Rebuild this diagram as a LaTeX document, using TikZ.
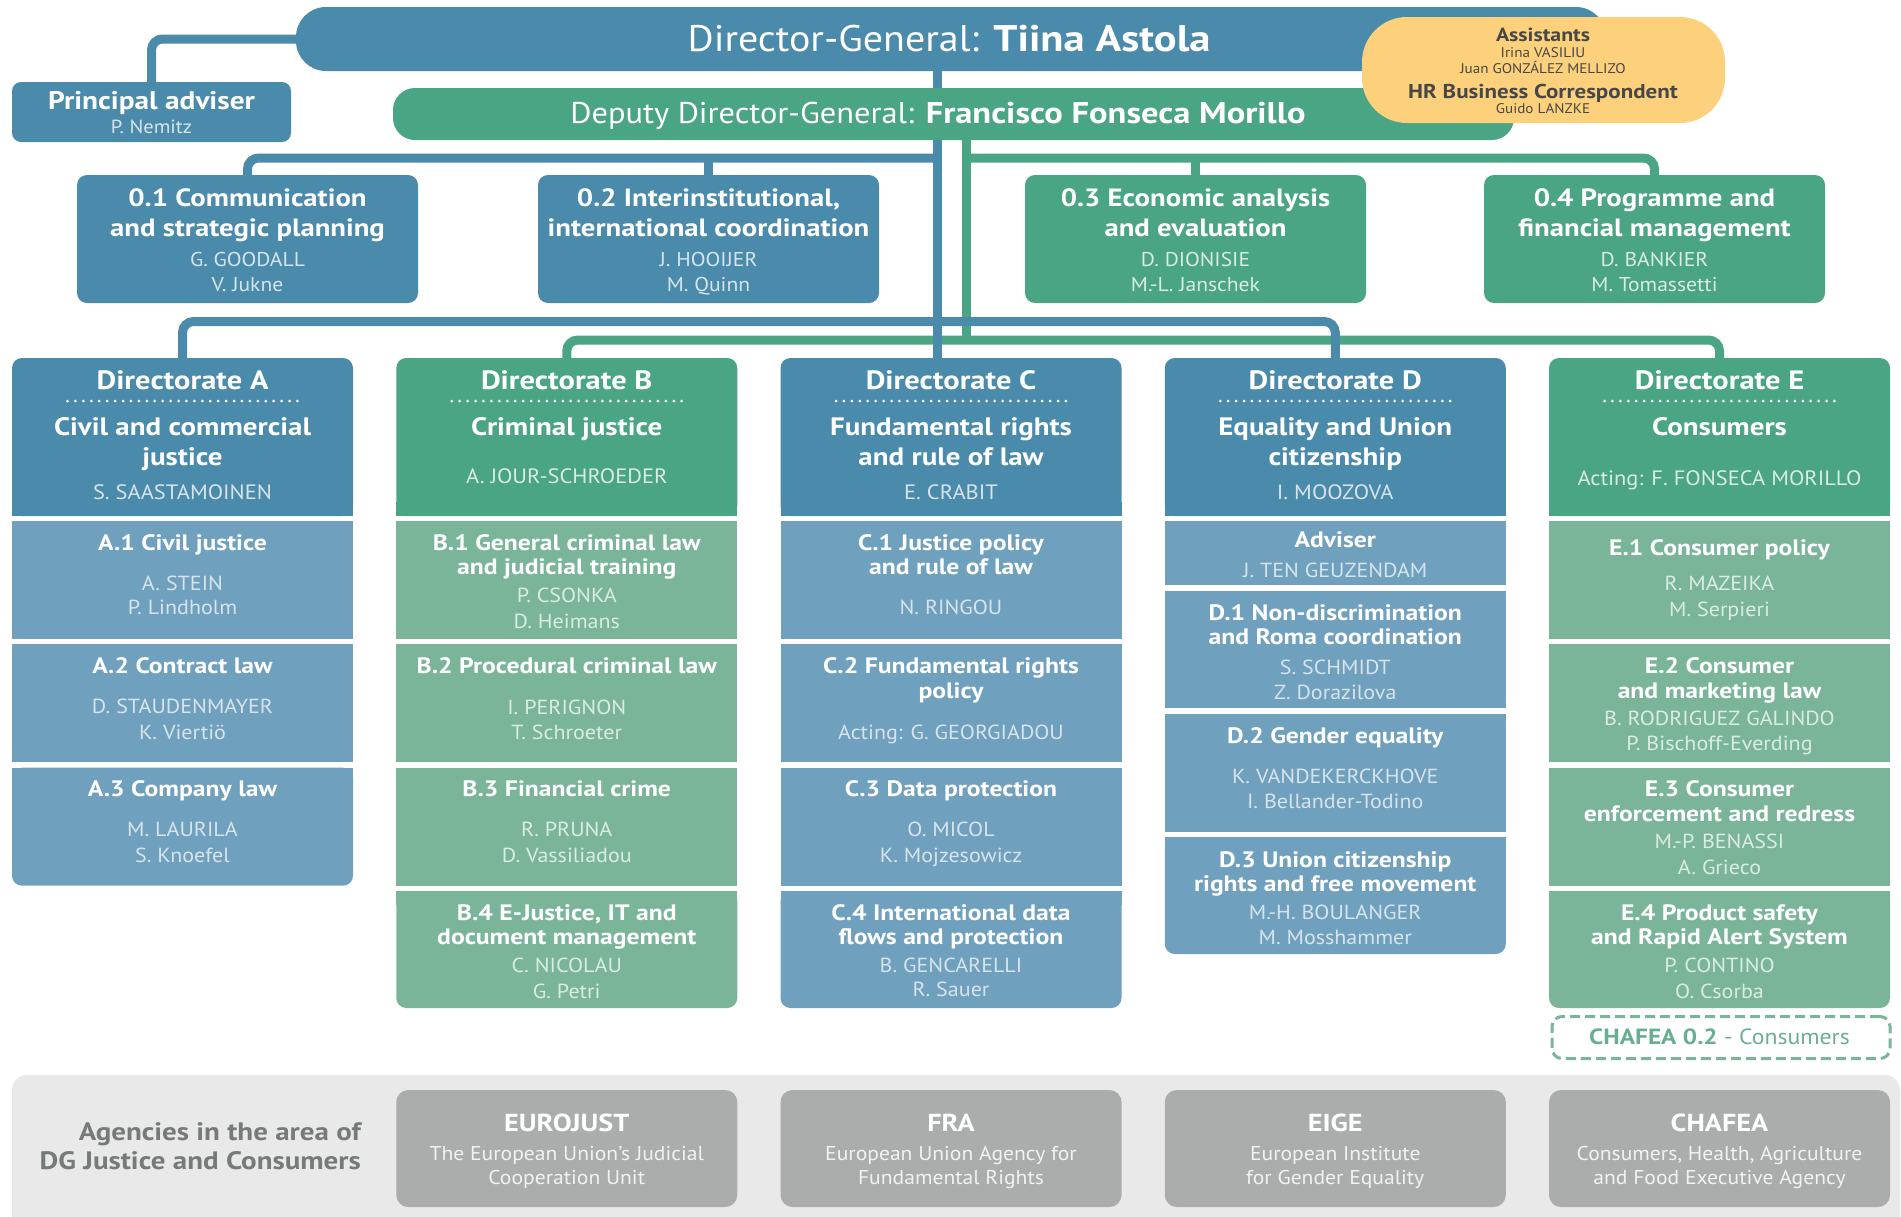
\documentclass[tikz,border=0pt]{standalone}
\usepackage{fontspec}
\setmainfont{PT Sans}[UprightFeatures={FakeStretch=1.08}, BoldFeatures={FakeStretch=1.15}]
\usetikzlibrary{calc}
\definecolor{cBlue}{HTML}{4A8AAB}
\definecolor{cGreen}{HTML}{4AA584}
\definecolor{cBlueL}{HTML}{6FA0BE}
\definecolor{cGreenL}{HTML}{7AB59A}
\definecolor{cYel}{HTML}{FDD17B}
\definecolor{cGray}{HTML}{AAADAC}
\definecolor{cBand}{HTML}{E8E9E8}
\definecolor{cNameB}{HTML}{D8E4EC}
\definecolor{cNameG}{HTML}{DAECE3}
\definecolor{cDark}{HTML}{474747}
\definecolor{cAgTxt}{HTML}{767B79}
\definecolor{cChafea}{HTML}{6AAE90}
\pgfdeclarelayer{bg}\pgfsetlayers{bg,main}
\newcounter{tlc}
\newcommand\myTL[4]{\stepcounter{tlc}\node[#3] (tl\arabic{tlc}) at (#1,#2) {#4};}
\newcommand\mySB[5]{\node[fill=#5, minimum width=341, minimum height=#4, anchor=north west, inner sep=0, outer sep=0] (#1) at (#2,#3) {};}
\newcommand\mySBL[5]{\node[fill=#5, rounded corners=10, minimum width=341, minimum height=#4, anchor=north west, inner sep=0, outer sep=0] (#1) at (#2,#3) {};
  \fill[#5] ([yshift=-14pt]#1.north west) rectangle (#1.north east);}
\newcommand\myDirHead[3]{\node[fill=#3, rounded corners=10, minimum width=341, minimum height=158, anchor=north west, inner sep=0, outer sep=0] (#1) at (#2,358) {};
  \fill[#3] ([yshift=14pt]#1.south west) rectangle (#1.south east);
  \draw[white, line width=3, line cap=round, dash pattern=on 0pt off 7.93pt] ($(#1.north)+(-115,43)$) -- ($(#1.north)+(115,43)$);}
\begin{document}
\begin{tikzpicture}[x=1pt,y=-1pt,
  tb/.style={anchor=base, inner sep=0, text=white, font=\bfseries\fontsize{#1}{#1}\selectfont, yshift={-0.35*#1}},
  tn/.style={anchor=base, inner sep=0, font=\fontsize{#1}{#1}\selectfont, yshift={-0.35*#1}},
  hd/.style={tb=26.5},
  dt/.style={tb=25.2},
  dn/.style={tn=20.8},
  st/.style={tb=22.3},
  sn/.style={tn=20.4},
  conB/.style={draw=cBlue, line width=9},
  conG/.style={draw=cGreen, line width=9},
  obox/.style={rounded corners=10, minimum width=341, minimum height=128, anchor=north west, inner sep=0, outer sep=0},
  agbox/.style={fill=cGray, rounded corners=12, minimum width=341, minimum height=117, anchor=north west, inner sep=0, outer sep=0}]
\useasboundingbox (0,0) rectangle (1901,1216);

% top boxes
\node[fill=cBlue, rounded corners=30, minimum width=1310, minimum height=64, anchor=north west, inner sep=0, outer sep=0] (dg) at (296,7) {};
\node[fill=cGreen, rounded corners=22, minimum width=1121, minimum height=52, anchor=north west, inner sep=0, outer sep=0] (dp) at (393,88) {};
\node[fill=cYel, rounded corners=45, minimum width=363, minimum height=106, anchor=north west, inner sep=0, outer sep=0] (as) at (1362,17) {};
\node[fill=cBlue, rounded corners=9, minimum width=279, minimum height=60, anchor=north west, inner sep=0, outer sep=0] (pa) at (12,82) {};

\node[fill=cBlue, obox] (o1) at (77,175) {};
\node[fill=cBlue, obox] (o2) at (538,175) {};
\node[fill=cGreen, obox] (o3) at (1025,175) {};
\node[fill=cGreen, obox] (o4) at (1484,175) {};

% directorates
\myDirHead{dA}{12}{cBlue}
\myDirHead{dB}{396.25}{cGreen}
\myDirHead{dC}{780.5}{cBlue}
\myDirHead{dD}{1164.75}{cBlue}
\myDirHead{dE}{1549}{cGreen}

\mySB{a1}{12}{521}{118}{cBlueL}
\mySB{a2}{12}{644.3}{118}{cBlueL}
\mySBL{a3}{12}{767.7}{118}{cBlueL}
\mySB{b1}{396.25}{521}{118}{cGreenL}
\mySB{b2}{396.25}{644.3}{118}{cGreenL}
\mySB{b3}{396.25}{767.7}{118}{cGreenL}
\mySBL{b4}{396.25}{891}{117}{cGreenL}
\mySB{c1}{780.5}{521}{118}{cBlueL}
\mySB{c2}{780.5}{644.3}{118}{cBlueL}
\mySB{c3}{780.5}{767.7}{118}{cBlueL}
\mySBL{c4}{780.5}{891}{117}{cBlueL}
\mySB{dadv}{1164.75}{521}{64}{cBlueL}
\mySB{d1}{1164.75}{591}{117}{cBlueL}
\mySB{d2}{1164.75}{714}{118}{cBlueL}
\mySBL{d3}{1164.75}{837}{117}{cBlueL}
\mySB{e1}{1549}{521}{118}{cGreenL}
\mySB{e2}{1549}{644.3}{118}{cGreenL}
\mySB{e3}{1549}{767.7}{118}{cGreenL}
\mySBL{e4}{1549}{891}{117}{cGreenL}
\node[draw=cGreenL, line width=3, dash pattern=on 10pt off 5pt, rounded corners=10, minimum width=338, minimum height=42, anchor=north west, inner sep=0] (chf) at (1550.5,1015) {};

% agencies
\node[fill=cBand, rounded corners=15, minimum width=1888, minimum height=185, anchor=north west, inner sep=0, outer sep=0] (band) at (12,1075) {};
\node[agbox] (g1) at (396.25,1090) {};
\node[agbox] (g2) at (780.5,1090) {};
\node[agbox] (g3) at (1164.75,1090) {};
\node[agbox] (g4) at (1549,1090) {};

% connectors
\coordinate (tB) at (937.5,40);
\coordinate (tG) at (966,113);
\coordinate (bus0) at (0,158);
\coordinate (busB) at (0,321.5);
\coordinate (busG) at (0,340);
\begin{pgfonlayer}{bg}
\draw[conG] (tG) -- (tG |- busG);
\draw[conG, rounded corners=11] (dB.north) |- (busG -| dE.north) -- (dE.north);
\draw[conG, rounded corners=11] (tG |- bus0) -| (o4.north);
\draw[conG] (o3.north) -- (o3.north |- bus0);
\draw[conB] (tB) -- (tB |- dC.north);
\draw[conB, rounded corners=11] (dA.north) |- (busB -| dD.north) -- (dD.north);
\draw[conB, rounded corners=11] (tB |- bus0) -| (o1.north);
\draw[conB] (o2.north) -- (o2.north |- bus0);
\draw[conB, rounded corners=11] (dg.west) -| (pa.north);
\end{pgfonlayer}

% top texts
\myTL{949}{39}{tn=37, text=white}{Director-General: \textbf{Tiina Astola}}
\myTL{938}{113}{tn=30, text=white}{Deputy Director-General: \textbf{Francisco Fonseca Morillo}}
\myTL{1543}{35}{tb=19, text=cDark}{Assistants}
\myTL{1543}{53}{tn=14, text=cDark}{Irina VASILIU}
\myTL{1543}{69}{tn=14, text=cDark}{Juan GONZÁLEZ MELLIZO}
\myTL{1543}{91}{tb=20, text=cDark}{HR Business Correspondent}
\myTL{1543}{109}{tn=14, text=cDark}{Guido LANZKE}
\myTL{151.5}{101}{tb=25.5}{Principal adviser}
\myTL{151.5}{127}{tn=19, text=cNameB}{P. Nemitz}

\myTL{247.5}{198}{tb=25}{0.1 Communication}
\myTL{247.5}{228}{tb=25}{and strategic planning}
\myTL{247.5}{259}{tn=20, text=cNameB}{G. GOODALL}
\myTL{247.5}{284}{tn=20, text=cNameB}{V. Jukne}
\myTL{708.5}{198}{tb=25}{0.2 Interinstitutional,}
\myTL{708.5}{228}{tb=25}{international coordination}
\myTL{708.5}{259}{tn=20, text=cNameB}{J. HOOIJER}
\myTL{708.5}{284}{tn=20, text=cNameB}{M. Quinn}
\myTL{1195.5}{198}{tb=25}{0.3 Economic analysis}
\myTL{1195.5}{228}{tb=25}{and evaluation}
\myTL{1195.5}{259}{tn=20, text=cNameG}{D. DIONISIE}
\myTL{1195.5}{284}{tn=20, text=cNameG}{M.-L. Janschek}
\myTL{1654.5}{198}{tb=25}{0.4 Programme and}
\myTL{1654.5}{228}{tb=25}{financial management}
\myTL{1654.5}{259}{tn=20, text=cNameG}{D. BANKIER}
\myTL{1654.5}{284}{tn=20, text=cNameG}{M. Tomassetti}

% Directorate A
\myTL{182.5}{380}{hd}{Directorate A}
\myTL{182.5}{427}{dt}{Civil and commercial}
\myTL{182.5}{457}{dt}{justice}
\myTL{182.5}{492}{dn, text=cNameB}{S. SAASTAMOINEN}
\myTL{182.5}{543}{st}{A.1 Civil justice}
\myTL{182.5}{583}{sn, text=cNameB}{A. STEIN}
\myTL{182.5}{607}{sn, text=cNameB}{P. Lindholm}
\myTL{182.5}{666}{st}{A.2 Contract law}
\myTL{182.5}{706}{sn, text=cNameB}{D. STAUDENMAYER}
\myTL{182.5}{732}{sn, text=cNameB}{K. Viertiö}
\myTL{182.5}{789}{st}{A.3 Company law}
\myTL{182.5}{829}{sn, text=cNameB}{M. LAURILA}
\myTL{182.5}{855}{sn, text=cNameB}{S. Knoefel}

% Directorate B
\myTL{566.75}{380}{hd}{Directorate B}
\myTL{566.75}{427}{dt}{Criminal justice}
\myTL{566.75}{476}{dn, text=cNameG}{A. JOUR-SCHROEDER}
\myTL{566.75}{543}{st}{B.1 General criminal law}
\myTL{566.75}{567}{st}{and judicial training}
\myTL{566.75}{595}{sn, text=cNameG}{P. CSONKA}
\myTL{566.75}{621}{sn, text=cNameG}{D. Heimans}
\myTL{566.75}{666}{st}{B.2 Procedural criminal law}
\myTL{566.75}{707}{sn, text=cNameG}{I. PERIGNON}
\myTL{566.75}{732}{sn, text=cNameG}{T. Schroeter}
\myTL{566.75}{789}{st}{B.3 Financial crime}
\myTL{566.75}{829}{sn, text=cNameG}{R. PRUNA}
\myTL{566.75}{855}{sn, text=cNameG}{D. Vassiliadou}
\myTL{566.75}{913}{st}{B.4 E-Justice, IT and}
\myTL{566.75}{937}{st}{document management}
\myTL{566.75}{965}{sn, text=cNameG}{C. NICOLAU}
\myTL{566.75}{991}{sn, text=cNameG}{G. Petri}

% Directorate C
\myTL{951}{380}{hd}{Directorate C}
\myTL{951}{427}{dt}{Fundamental rights}
\myTL{951}{457}{dt}{and rule of law}
\myTL{951}{492}{dn, text=cNameB}{E. CRABIT}
\myTL{951}{543}{st}{C.1 Justice policy}
\myTL{951}{567}{st}{and rule of law}
\myTL{951}{607}{sn, text=cNameB}{N. RINGOU}
\myTL{951}{666}{st}{C.2 Fundamental rights}
\myTL{951}{691}{st}{policy}
\myTL{951}{732}{sn, text=cNameB}{Acting: G. GEORGIADOU}
\myTL{951}{789}{st}{C.3 Data protection}
\myTL{951}{829}{sn, text=cNameB}{O. MICOL}
\myTL{951}{855}{sn, text=cNameB}{K. Mojzesowicz}
\myTL{951}{913}{st}{C.4 International data}
\myTL{951}{937}{st}{flows and protection}
\myTL{951}{965}{sn, text=cNameB}{B. GENCARELLI}
\myTL{951}{989}{sn, text=cNameB}{R. Sauer}

% Directorate D
\myTL{1335.25}{380}{hd}{Directorate D}
\myTL{1335.25}{427}{dt}{Equality and Union}
\myTL{1335.25}{457}{dt}{citizenship}
\myTL{1335.25}{492}{dn, text=cNameB}{I. MOOZOVA}
\myTL{1335.25}{540}{st}{Adviser}
\myTL{1335.25}{570}{sn, text=cNameB}{J. TEN GEUZENDAM}
\myTL{1335.25}{613}{st}{D.1 Non-discrimination}
\myTL{1335.25}{637}{st}{and Roma coordination}
\myTL{1335.25}{667}{sn, text=cNameB}{S. SCHMIDT}
\myTL{1335.25}{692}{sn, text=cNameB}{Z. Dorazilova}
\myTL{1335.25}{736}{st}{D.2 Gender equality}
\myTL{1335.25}{776}{sn, text=cNameB}{K. VANDEKERCKHOVE}
\myTL{1335.25}{801}{sn, text=cNameB}{I. Bellander-Todino}
\myTL{1335.25}{860}{st}{D.3 Union citizenship}
\myTL{1335.25}{884}{st}{rights and free movement}
\myTL{1335.25}{912}{sn, text=cNameB}{M.-H. BOULANGER}
\myTL{1335.25}{937}{sn, text=cNameB}{M. Mosshammer}

% Directorate E
\myTL{1719.5}{380}{hd}{Directorate E}
\myTL{1719.5}{427}{dt}{Consumers}
\myTL{1719.5}{478}{dn, text=cNameG}{Acting: F. FONSECA MORILLO}
\myTL{1719.5}{548}{st}{E.1 Consumer policy}
\myTL{1719.5}{583}{sn, text=cNameG}{R. MAZEIKA}
\myTL{1719.5}{609}{sn, text=cNameG}{M. Serpieri}
\myTL{1719.5}{666}{st}{E.2 Consumer}
\myTL{1719.5}{691}{st}{and marketing law}
\myTL{1719.5}{718}{sn, text=cNameG}{B. RODRIGUEZ GALINDO}
\myTL{1719.5}{743}{sn, text=cNameG}{P. Bischoff-Everding}
\myTL{1719.5}{789}{st}{E.3 Consumer}
\myTL{1719.5}{814}{st}{enforcement and redress}
\myTL{1719.5}{841}{sn, text=cNameG}{M.-P. BENASSI}
\myTL{1719.5}{867}{sn, text=cNameG}{A. Grieco}
\myTL{1719.5}{913}{st}{E.4 Product safety}
\myTL{1719.5}{937}{st}{and Rapid Alert System}
\myTL{1719.5}{965}{sn, text=cNameG}{P. CONTINO}
\myTL{1719.5}{991}{sn, text=cNameG}{O. Csorba}
\myTL{1719.5}{1037}{tn=22, text=cChafea}{\textbf{CHAFEA 0.2} - Consumers}

% agencies texts
\myTL{361}{1132}{tb=25.2, anchor=base east, text=cAgTxt}{Agencies in the area of}
\myTL{361}{1161}{tb=25.2, anchor=base east, text=cAgTxt}{DG Justice and Consumers}
\myTL{566.75}{1123}{tb=24.6}{EUROJUST}
\myTL{566.75}{1153}{tn=20, text=white!95!black}{The European Union’s Judicial}
\myTL{566.75}{1177}{tn=20, text=white!95!black}{Cooperation Unit}
\myTL{951}{1123}{tb=24.6}{FRA}
\myTL{951}{1153}{tn=20, text=white!95!black}{European Union Agency for}
\myTL{951}{1177}{tn=20, text=white!95!black}{Fundamental Rights}
\myTL{1335.25}{1123}{tb=24.6}{EIGE}
\myTL{1335.25}{1153}{tn=20, text=white!95!black}{European Institute}
\myTL{1335.25}{1177}{tn=20, text=white!95!black}{for Gender Equality}
\myTL{1719.5}{1123}{tb=24.6}{CHAFEA}
\myTL{1719.5}{1153}{tn=20, text=white!95!black}{Consumers, Health, Agriculture}
\myTL{1719.5}{1177}{tn=20, text=white!95!black}{and Food Executive Agency}
\end{tikzpicture}
\end{document}
